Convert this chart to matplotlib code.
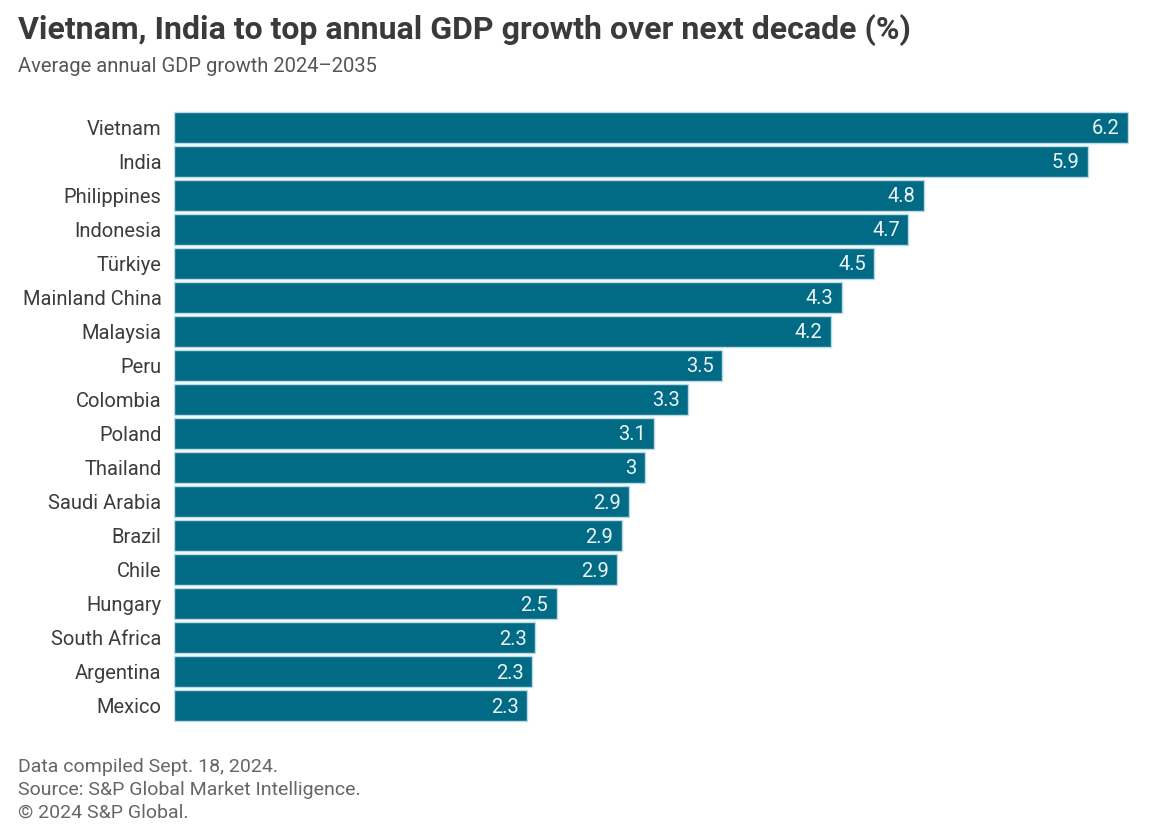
import numpy as np
import matplotlib.pyplot as plt

plt.rcParams['font.family'] = ['Roboto', 'DejaVu Sans']

countries = ['Vietnam', 'India', 'Philippines', 'Indonesia', 'Türkiye', 'Mainland China',
             'Malaysia', 'Peru', 'Colombia', 'Poland', 'Thailand', 'Saudi Arabia',
             'Brazil', 'Chile', 'Hungary', 'South Africa', 'Argentina', 'Mexico']
growth = [6.16, 5.90, 4.84, 4.74, 4.52, 4.31, 4.24, 3.54, 3.32, 3.10, 3.04, 2.94,
          2.89, 2.86, 2.47, 2.33, 2.31, 2.28]
labels = ['6.2', '5.9', '4.8', '4.7', '4.5', '4.3', '4.2', '3.5', '3.3', '3.1', '3',
          '2.9', '2.9', '2.9', '2.5', '2.3', '2.3', '2.3']

W, H = 1151, 835
fig = plt.figure(figsize=(W / 100, H / 100), dpi=100)
ax = fig.add_axes([174 / W, 1 - 723 / H, (1129 - 174) / W, (723 - 110) / H])

y = np.arange(len(countries))
ax.barh(y, growth, height=0.91, color='#016b86', edgecolor='#b9dbe5', linewidth=1.0)
ax.set_xlim(0, max(growth) + 0.005)
ax.set_ylim(len(countries) - 0.5, -0.5)
ax.set_yticks(y)
ax.set_yticklabels(countries, fontsize=14.5, color='#3c3c3c')
ax.tick_params(axis='y', length=0, pad=9)
ax.set_xticks([])
for s in ax.spines.values():
    s.set_visible(False)

for yi, v, lab in zip(y, growth, labels):
    ax.annotate(lab, (v, yi), xytext=(-6, -1), textcoords='offset points',
                ha='right', va='center', color='#eef4f6', fontsize=14.5)

fig.text(18 / W, 1 - 30 / H, 'Vietnam, India to top annual GDP growth over next decade (%)',
         fontsize=23, fontweight='bold', color='#3a3a3a', va='center', ha='left')
fig.text(18 / W, 1 - 66 / H, 'Average annual GDP growth 2024\u20132035',
         fontsize=14.5, color='#555555', va='center', ha='left')

footer = ['Data compiled Sept. 18, 2024.', 'Source: S&P Global Market Intelligence.',
          '\u00a9 2024 S&P Global.']
for i, line in enumerate(footer):
    fig.text(18 / W, 1 - (767 + 23 * i) / H, line, fontsize=14, color='#666666',
             va='center', ha='left')

fig.savefig('out.png', dpi=100)
